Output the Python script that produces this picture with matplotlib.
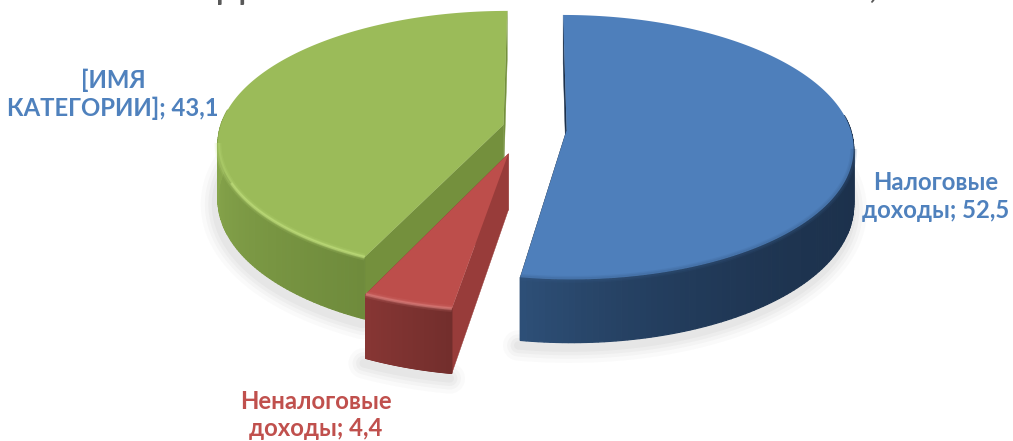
import numpy as np
import matplotlib
matplotlib.use("Agg")
import matplotlib.pyplot as plt
from matplotlib.colors import to_rgb

# --- data
categories = ["Налоговые\nдоходы", "Неналоговые\nдоходы", "[ИМЯ\nКАТЕГОРИИ]"]
values = [52.5, 4.4, 43.1]
title_text = "Бюджет Омской области в 2015 г., %"

# --- style
top_colors = ["#4e7fbb", "#bd4e4b", "#9bbb59"]
label_colors = ["#4f81bd", "#c0504d", "#4f81bd"]
wall_far = ["#1c314c", "#722e2c", "#8cab4f"]
wall_near = ["#2e5078", "#873634", "#6f8b3c"]
radial_colors = ["#1c314c", "#983c3a", "#74903d"]
bevel_colors = ["#365a86", "#d97f7c", "#c2e07e"]
explode = [(0.108, 0.0), (-0.095, -0.178), (-0.115, 0.04)]
label_xy = [(936, 196.5), (316, 415), (113, 94.5)]
draw_order = [2, 1, 0]

CX, CY, RX, RY, K, DEPTH = 536, 130, 284, 130, 0.13, 55
plt.rcParams["font.family"] = ["Lato", "Noto Sans", "DejaVu Sans"]

fig = plt.figure(figsize=(10.13, 4.41), dpi=100)
ax = fig.add_axes([0, 0, 1, 1])
ax.set_xlim(0, 1013)
ax.set_ylim(441, 0)
ax.axis("off")


def project(u, v, z=0.0):
    w = 1 + K * v
    return CX + RX * u / w, CY - RY * v / w + z * DEPTH / w


total = sum(values)
fractions = np.cumsum([0] + values) / total * 2 * np.pi


def mix(a, b, t):
    a, b = np.array(to_rgb(a)), np.array(to_rgb(b))
    return tuple(a + (b - a) * t)


geo = []
for i, (a0, a1) in enumerate(zip(fractions[:-1], fractions[1:])):
    th = np.linspace(a0, a1, 180)
    ex, ey = explode[i]
    geo.append((th, ex + np.sin(th), ey + np.cos(th), ex, ey))

# soft shadows beneath the solid
for i in draw_order:
    th, u, v, ex, ey = geo[i]
    xb, yb = project(np.r_[ex, u, ex], np.r_[ey, v, ey], 1.0)
    mask = np.cos(np.r_[0, th, 0]) < 0.35
    for lw, al in zip((22, 16, 11, 6), (0.022, 0.03, 0.035, 0.04)):
        ax.plot(xb[mask] - 2, yb[mask] + 5, color="#404040", alpha=al, lw=lw,
                solid_capstyle="round", zorder=1)

for n, i in enumerate(draw_order):
    th, u, v, ex, ey = geo[i]
    z0 = 2 + n * 3
    # radial walls
    for end in (0, -1):
        xs = [ex, u[end], u[end], ex]
        ys = [ey, v[end], v[end], ey]
        zs = [0, 0, 1, 1]
        px, py = zip(*[project(a, b, c) for a, b, c in zip(xs, ys, zs)])
        ax.fill(px, py, color=radial_colors[i], lw=0.3, zorder=z0)
    # curved wall
    front = np.where(np.cos(th) < 0.12)[0]
    if len(front) > 1:
        lo, hi = th[front].min(), th[front].max()
        for j in front[:-1]:
            t = np.clip((th[j] - lo) / max(hi - lo, 1e-6), 0, 1)
            if i == 2:
                t = 1 - t
            elif i == 0:
                t = t ** 3.2
            col = mix(wall_far[i], wall_near[i], t)
            x1, y1 = project(u[j], v[j], 0)
            x2, y2 = project(u[j + 1], v[j + 1], 0)
            x3, y3 = project(u[j + 1], v[j + 1], 1)
            x4, y4 = project(u[j], v[j], 1)
            ax.fill([x1, x2, x3, x4], [y1, y2, y3, y4], color=col, lw=0.9, zorder=z0 + 1)
    # top face
    tx, ty = project(np.r_[ex, u], np.r_[ey, v])
    ax.fill(tx, ty, color=top_colors[i], lw=0, zorder=z0 + 2)
    # bevel on the front rim
    rim = np.where(np.cos(th) < -0.13)[0]
    if len(rim) > 1:
        rx, ry = project(u[rim], v[rim])
        for lw, al in ((5, 0.14), (3, 0.22)):
            ax.plot(rx, ry, color=bevel_colors[i], lw=lw, alpha=al,
                    solid_capstyle="butt", zorder=z0 + 2.5)
        keep = th[rim] < np.deg2rad(245) if i == 2 else np.ones(len(rim), bool)
        if i != 0:
            ax.plot(rx[keep], ry[keep], color=bevel_colors[i], lw=1.8, alpha=0.6,
                    solid_capstyle="butt", zorder=z0 + 2.6)

# data labels
for cat, val, col, (lx, ly) in zip(categories, values, label_colors, label_xy):
    ax.text(lx, ly, f"{cat}; {val:.1f}".replace(".", ","), color=col, fontsize=17.2,
            fontweight="bold", ha="center", va="center", linespacing=1.22, zorder=30)

# title, cut off by the upper edge of the picture
ax.text(155, -3, title_text, color="#595959", fontsize=32, ha="left",
        va="baseline", zorder=30, clip_on=True)

fig.savefig("out.png", dpi=100)
